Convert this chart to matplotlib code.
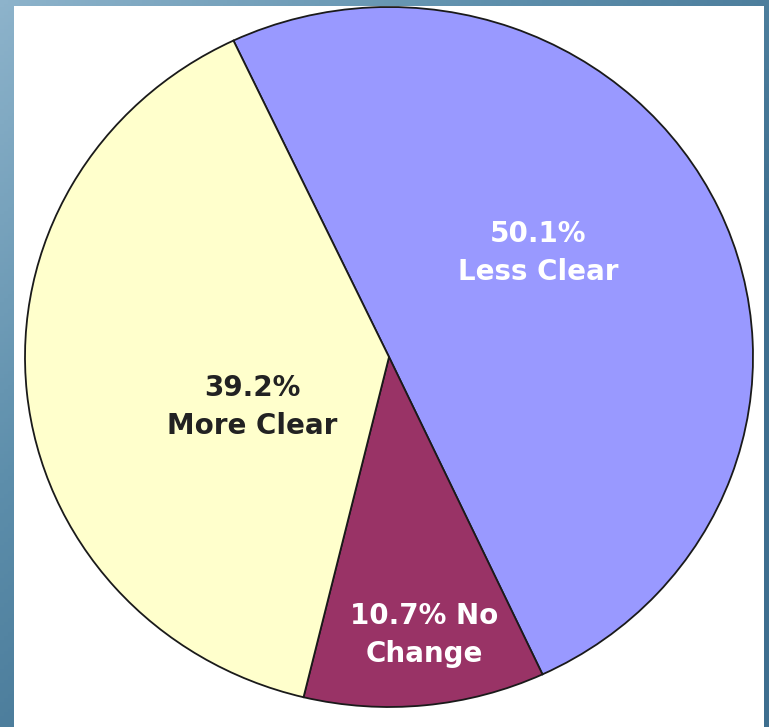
import numpy as np
import matplotlib
matplotlib.use("Agg")
import matplotlib.pyplot as plt
from matplotlib.colors import LinearSegmentedColormap

categories = ["Less Clear", "No Change", "More Clear"]
shares = [50.1, 10.7, 39.2]
label_texts = ["50.1%\nLess Clear", "10.7% No\nChange", "39.2%\nMore Clear"]
colors = ["#9999FF", "#993366", "#FFFFCC"]
text_colors = ["white", "white", "#222222"]
label_xy = [(0.41, 0.297), (0.096, -0.793), (-0.376, -0.142)]

W, H = 769, 727
fig = plt.figure(figsize=(W / 100, H / 100), dpi=100)

# diagonal blue-grey backdrop
bg = fig.add_axes([0, 0, 1, 1])
yy, xx = np.mgrid[0:1:200j, 0:1:200j]
t = np.clip(0.75 * yy + 0.75 * xx, 0, 1)
cmap = LinearSegmentedColormap.from_list("bgc", ["#8db3cb", "#5d8eab", "#3e6f8f"])
bg.imshow(t, cmap=cmap, extent=[0, 1, 0, 1], origin="upper", aspect="auto")
# white panel
bg.add_patch(plt.Rectangle((14 / W, 0), (764 - 14) / W, (H - 6) / H,
                           facecolor="white", edgecolor="none"))
bg.set_xlim(0, 1)
bg.set_ylim(0, 1)
bg.axis("off")

ax = fig.add_axes([25 / W, (H - 707) / H, 728 / W, 700 / H])
wedges, _ = ax.pie(shares, colors=colors, startangle=115.3, counterclock=False,
                   wedgeprops=dict(edgecolor="#1a1a1a", linewidth=1.3))
ax.set_aspect("auto")
ax.set_xlim(-1, 1)
ax.set_ylim(-1, 1)
ax.axis("off")

for txt, (x, y), c in zip(label_texts, label_xy, text_colors):
    ax.text(x, y, txt, ha="center", va="center", color=c, fontsize=20,
            fontweight="bold", family=["DejaVu Sans"], linespacing=1.45)

fig.savefig("out.png", dpi=100)
